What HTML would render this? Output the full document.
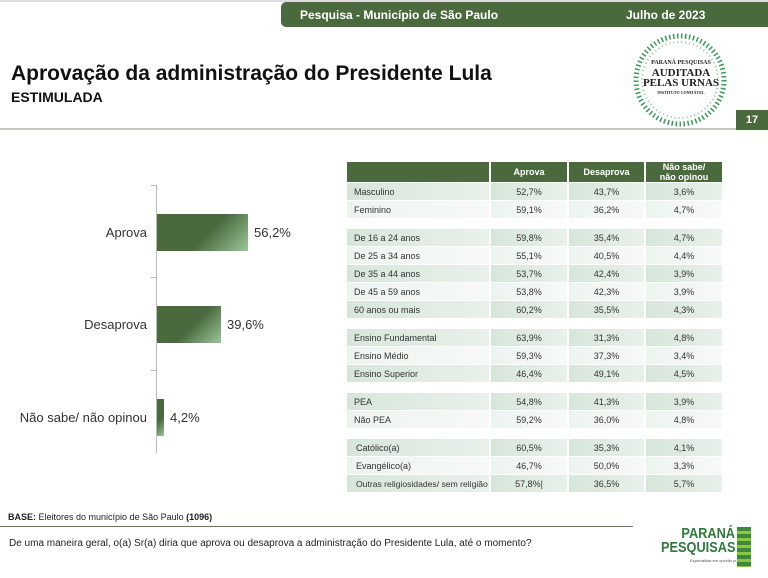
<!DOCTYPE html>
<html><head><meta charset="utf-8"><style>
body{margin:0;width:768px;height:578px;overflow:hidden;background:#fff;font-family:"Liberation Sans",Arial,sans-serif;position:relative}
.a{position:absolute}
.tab{left:281px;top:2px;width:487px;height:25px;background:#4a6a3e;border-radius:5px 0 0 5px;color:#fff;font-weight:bold;font-size:12px}
table{position:absolute;left:345px;top:161px;border-collapse:separate;border-spacing:2px 1px;font-size:9px;color:#333;table-layout:fixed;width:379px}
td{height:17px;padding:0;text-align:center;white-space:nowrap;overflow:hidden}
td.l{text-align:left;padding-left:7px}
th{background:#4a6a3e;color:#fff;font-size:9px;height:20px;font-weight:bold;line-height:10px;padding:0}
tr.d td{background:linear-gradient(90deg,#d7e6da,#e9f1ea)}
tr.e td{background:linear-gradient(90deg,#edf4ee,#f7faf7)}
tr.g td{height:9px;background:none}
.bar{background:linear-gradient(135deg,#4a6a3e 55%,#9cc59c)}
.lbl{font-size:13px;color:#333}
</style></head><body>
<div class="a" style="left:0;top:0;width:768px;height:2px;background:#ddd"></div>
<div class="a tab"><span class="a" style="left:19px;top:6px">Pesquisa - Município de São Paulo</span><span class="a" style="left:345px;top:6px">Julho de 2023</span></div>
<div class="a" style="left:11px;top:62px;font-size:21px;font-weight:bold;color:#111">Aprovação da administração do Presidente Lula</div>
<div class="a" style="left:11px;top:89px;font-size:14px;font-weight:bold;color:#111">ESTIMULADA</div>
<div class="a" style="left:0;top:128px;width:736px;height:2px;background:#c8c8c0"></div>
<div class="a" style="left:736px;top:110px;width:32px;height:20px;background:#4a6a3e;color:#fff;font-size:11px;font-weight:bold;text-align:center;line-height:20px">17</div>
<svg class="a" style="left:630px;top:30px" width="100" height="100"><circle cx="50" cy="50" r="44" fill="none" stroke="#3a9a5a" stroke-width="5" stroke-dasharray="1.5 2.5"/><circle cx="50" cy="50" r="38" fill="none" stroke="#8fc89f" stroke-width="2" stroke-dasharray="1 3"/></svg>
<div class="a" style="left:636px;top:58px;width:90px;text-align:center;font-family:'Liberation Serif',serif;font-weight:bold;line-height:10px;color:#222"><div style="font-size:6px">PARANÁ PESQUISAS</div><div style="font-size:11px">AUDITADA</div><div style="font-size:11px">PELAS URNAS</div><div style="font-size:4px">INSTITUTO CONFIÁVEL</div></div>
<div class="a" style="left:156px;top:185px;width:1px;height:268px;background:#bbb"></div>
<div class="a" style="left:151px;top:185px;width:5px;height:1px;background:#bbb"></div>
<div class="a" style="left:151px;top:277px;width:5px;height:1px;background:#bbb"></div>
<div class="a" style="left:151px;top:370px;width:5px;height:1px;background:#bbb"></div>
<div class="a bar" style="left:157px;top:214px;width:91px;height:37px"></div>
<div class="a bar" style="left:157px;top:306px;width:64px;height:37px"></div>
<div class="a bar" style="left:157px;top:399px;width:7px;height:37px"></div>
<div class="a lbl" style="right:621px;top:225px">Aprova</div>
<div class="a lbl" style="right:621px;top:317px">Desaprova</div>
<div class="a lbl" style="right:621px;top:410px">Não sabe/ não opinou</div>
<div class="a lbl" style="left:254px;top:225px">56,2%</div>
<div class="a lbl" style="left:227px;top:317px">39,6%</div>
<div class="a lbl" style="left:170px;top:410px">4,2%</div>
<table>
<colgroup><col style="width:142px"><col style="width:76px"><col style="width:75px"><col style="width:76px"></colgroup>
<tr><th></th><th>Aprova</th><th>Desaprova</th><th>Não sabe/<br>não opinou</th></tr>
<tr class="d"><td class="l">Masculino</td><td>52,7%</td><td>43,7%</td><td>3,6%</td></tr>
<tr class="e"><td class="l">Feminino</td><td>59,1%</td><td>36,2%</td><td>4,7%</td></tr>
<tr class="g"><td></td><td></td><td></td><td></td></tr>
<tr class="d"><td class="l">De 16 a 24 anos</td><td>59,8%</td><td>35,4%</td><td>4,7%</td></tr>
<tr class="e"><td class="l">De 25 a 34 anos</td><td>55,1%</td><td>40,5%</td><td>4,4%</td></tr>
<tr class="d"><td class="l">De 35 a 44 anos</td><td>53,7%</td><td>42,4%</td><td>3,9%</td></tr>
<tr class="e"><td class="l">De 45 a 59 anos</td><td>53,8%</td><td>42,3%</td><td>3,9%</td></tr>
<tr class="d"><td class="l">60 anos ou mais</td><td>60,2%</td><td>35,5%</td><td>4,3%</td></tr>
<tr class="g"><td></td><td></td><td></td><td></td></tr>
<tr class="d"><td class="l">Ensino Fundamental</td><td>63,9%</td><td>31,3%</td><td>4,8%</td></tr>
<tr class="e"><td class="l">Ensino Médio</td><td>59,3%</td><td>37,3%</td><td>3,4%</td></tr>
<tr class="d"><td class="l">Ensino Superior</td><td>46,4%</td><td>49,1%</td><td>4,5%</td></tr>
<tr class="g"><td></td><td></td><td></td><td></td></tr>
<tr class="d"><td class="l">PEA</td><td>54,8%</td><td>41,3%</td><td>3,9%</td></tr>
<tr class="e"><td class="l">Não PEA</td><td>59,2%</td><td>36,0%</td><td>4,8%</td></tr>
<tr class="g"><td></td><td></td><td></td><td></td></tr>
<tr class="d"><td class="l" style="padding-left:9px">Católico(a)</td><td>60,5%</td><td>35,3%</td><td>4,1%</td></tr>
<tr class="e"><td class="l" style="padding-left:9px">Evangélico(a)</td><td>46,7%</td><td>50,0%</td><td>3,3%</td></tr>
<tr class="d"><td class="l" style="padding-left:9px;font-size:8.6px">Outras religiosidades/ sem religião</td><td>57,8%|</td><td>36,5%</td><td>5,7%</td></tr>
</table>
<div class="a" style="left:8px;top:512px;font-size:9px;color:#222"><b>BASE:</b> Eleitores do município de São Paulo <b>(1096)</b></div>
<div class="a" style="left:0;top:526px;width:633px;height:1px;background:#6b7b5b"></div>
<div class="a" style="left:9px;top:538px;font-size:10px;color:#222">De uma maneira geral, o(a) Sr(a) diria que aprova ou desaprova a administração do Presidente Lula, até o momento?</div>
<div class="a" style="left:648px;top:527px;font-size:15px;font-weight:bold;color:#2e7a3a;line-height:14px;text-align:right;width:87px;transform:scaleX(.85);transform-origin:right">PARANÁ<br>PESQUISAS</div>
<div class="a" style="left:690px;top:558px;font-size:4px;color:#555">Especialista em opinião pública</div>
<div class="a" style="left:737px;top:527px;width:14px;height:40px;background:repeating-linear-gradient(#3a8a3a 0 4px,#8cc63e 4px 7px)"></div>
</body></html>
